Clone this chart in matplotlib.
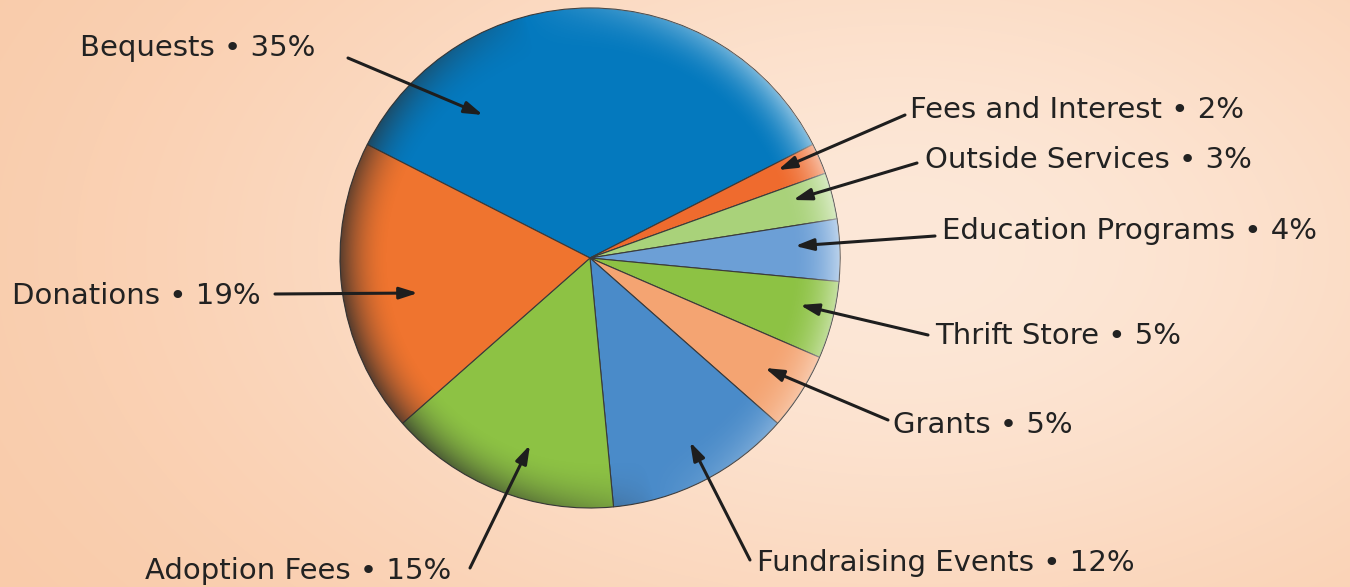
import numpy as np
import matplotlib.pyplot as plt
from matplotlib.patches import Circle

categories = ['Bequests', 'Fees and Interest', 'Outside Services', 'Education Programs',
              'Thrift Store', 'Grants', 'Fundraising Events', 'Adoption Fees', 'Donations']
percents = [35, 2, 3, 4, 5, 5, 12, 15, 19]
colors = ['#0479BE', '#EF6B2E', '#A9D27A', '#6C9FD6', '#8DC244',
          '#F4A472', '#4A8BC9', '#8DC244', '#EF742F']

# label text position, arrow tail, arrow head (pixels)
label_pos = [(80, 48), (910, 110), (925, 160), (942, 231), (935, 336),
             (893, 425), (757, 563), (145, 571), (12, 296)]
arrow_tail = [(348, 58), (905, 115), (917, 163), (935, 236), (928, 335),
              (888, 420), (750, 560), (470, 568), (275, 294)]
arrow_head = [(483, 115), (778, 170), (793, 200), (795, 246), (800, 305),
              (765, 368), (690, 442), (530, 445), (418, 293)]

W, H = 1350, 587
cx, cy, R = 590, 258, 250

fig = plt.figure(figsize=(13.5, 5.87), dpi=100)
ax = fig.add_axes([0, 0, 1, 1])

# peach background
yy, xx = np.mgrid[0:H, 0:W]
t = np.exp(-(((xx - 900) / 700.0) ** 2 + ((yy - 250) / 420.0) ** 2))
c1 = np.array([249, 200, 165]) / 255
c2 = np.array([253, 232, 216]) / 255
bg = c1[None, None, :] * (1 - t[..., None]) + c2[None, None, :] * t[..., None]
ax.imshow(bg, extent=[0, W, H, 0], zorder=0, aspect='auto')

# y axis is inverted below, so angles are mirrored
wedges, _ = ax.pie(percents, colors=colors, startangle=-153, counterclock=True,
                   center=(cx, cy), radius=R, frame=True,
                   wedgeprops=dict(edgecolor='#3a3a3a', linewidth=0.8))
ax.set_xlim(0, W)
ax.set_ylim(H, 0)
ax.set_aspect('auto')
ax.axis('off')
for w in wedges:
    w.set_zorder(2)

# rim shading: dark on the left, light on the right
gy, gx = np.mgrid[cy - R:cy + R, cx - R:cx + R] + 0.5
dx, dy = gx - cx, gy - cy
r = np.hypot(dx, dy) / R
ang = np.arctan2(-dy, dx)
edge = np.clip((r - 0.80) / 0.20, 0, 1) ** 2
dark = np.clip(-np.cos(ang - np.deg2rad(15)), 0, 1) ** 0.7
light = np.clip(np.cos(ang - np.deg2rad(15)), 0, 1)
shade = np.zeros(r.shape + (4,))
a_dark = edge * dark * 0.8
a_light = edge * light * 0.55
shade[..., :3] = np.where((a_dark > a_light)[..., None], 0.18, 1.0)
shade[..., 3] = np.maximum(a_dark, a_light)
im = ax.imshow(shade, extent=[cx - R, cx + R, cy + R, cy - R], zorder=3, aspect='auto')
im.set_clip_path(Circle((cx, cy), R, transform=ax.transData))

for cat, p, (tx, ty), tail, head in zip(categories, percents, label_pos, arrow_tail, arrow_head):
    ax.text(tx, ty, f'{cat} \u2022 {p}%', fontsize=21, color='#222222',
            ha='left', va='center', zorder=5)
    ax.annotate('', xy=head, xytext=tail, zorder=5,
                arrowprops=dict(arrowstyle='-|>,head_length=1.1,head_width=0.35',
                                color='#1e1e1e', lw=2.2, shrinkA=0, shrinkB=0))

fig.savefig('out.png', dpi=100)
